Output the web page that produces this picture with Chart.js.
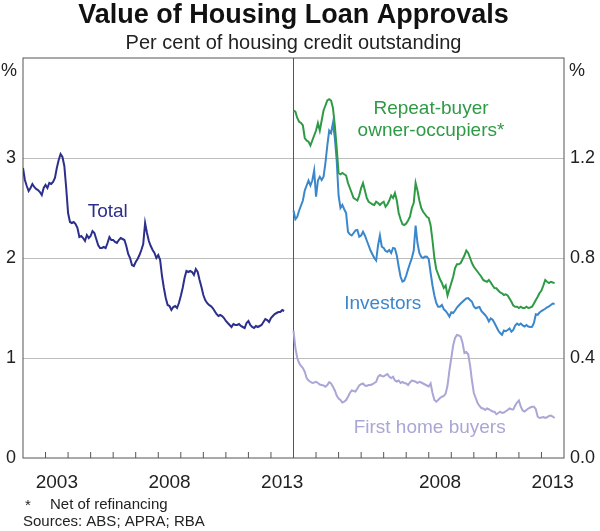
<!DOCTYPE html>
<html>
<head>
<meta charset="utf-8">
<script src="https://cdn.jsdelivr.net/npm/chart.js@4.4.0/dist/chart.umd.min.js"></script>
<style>
  body { margin: 0; background: #fff; }
  #wrap { width: 600px; height: 531px; }
</style>
</head>
<body>
<div id="wrap"><canvas id="chart" width="600" height="531"></canvas></div>
<script>
// Monthly data, Jan 2002 to Aug 2013 (per cent of housing credit outstanding)
const startYear = 2002;
const endYear = 2014;

// Left panel
const total = [
  2.90, 2.78, 2.72, 2.67, 2.70, 2.74, 2.71, 2.69, 2.68, 2.66, 2.63, 2.70,
  2.73, 2.70, 2.75, 2.74, 2.76, 2.80, 2.90, 2.98, 3.04, 3.01, 2.92, 2.70,
  2.45, 2.36, 2.35, 2.36, 2.34, 2.30, 2.21, 2.22, 2.20, 2.17, 2.23, 2.20,
  2.22, 2.27, 2.25, 2.19, 2.13, 2.10, 2.10, 2.11, 2.10, 2.15, 2.21, 2.18,
  2.18, 2.16, 2.15, 2.18, 2.20, 2.19, 2.18, 2.12, 2.04, 2.00, 1.93, 1.92,
  1.96, 1.99, 2.03, 2.08, 2.14, 2.35, 2.25, 2.17, 2.12, 2.08, 2.05, 2.00,
  2.03, 1.98, 1.82, 1.70, 1.60, 1.53, 1.52, 1.48, 1.51, 1.52, 1.50, 1.55,
  1.62, 1.70, 1.80, 1.87, 1.86, 1.87, 1.86, 1.83, 1.89, 1.86, 1.78, 1.71,
  1.63, 1.58, 1.55, 1.53, 1.52, 1.50, 1.47, 1.44, 1.42, 1.43, 1.42, 1.40,
  1.37, 1.35, 1.33, 1.31, 1.34, 1.33, 1.33, 1.34, 1.32, 1.31, 1.30, 1.35,
  1.37, 1.33, 1.31, 1.30, 1.32, 1.31, 1.32, 1.33, 1.36, 1.39, 1.38, 1.36,
  1.40, 1.42, 1.44, 1.45, 1.46, 1.46, 1.48, 1.47
];

// Right panel
const repeatBuyers = [
  1.39, 1.385, 1.36, 1.345, 1.34, 1.33, 1.28, 1.27, 1.265, 1.25, 1.27, 1.29,
  1.31, 1.34, 1.31, 1.35, 1.39, 1.41, 1.43, 1.435, 1.43, 1.40, 1.33, 1.24,
  1.14, 1.135, 1.14, 1.135, 1.13, 1.10, 1.08, 1.06, 1.04, 1.035, 1.03, 1.05,
  1.08, 1.10, 1.07, 1.04, 1.025, 1.02, 1.015, 1.012, 1.025, 1.02, 1.012, 1.02,
  1.025, 1.005, 1.015, 1.03, 1.05, 1.04, 1.06, 1.03, 0.98, 0.955, 0.935, 0.932,
  0.938, 0.95, 0.965, 1.00, 1.02, 1.10, 1.07, 1.03, 1.00, 0.985, 0.975, 0.965,
  0.96, 0.93, 0.87, 0.80, 0.755, 0.735, 0.715, 0.70, 0.68, 0.69, 0.65, 0.675,
  0.70, 0.725, 0.76, 0.775, 0.775, 0.78, 0.795, 0.81, 0.83, 0.82, 0.80, 0.78,
  0.765, 0.755, 0.745, 0.735, 0.725, 0.712, 0.708, 0.705, 0.712, 0.702, 0.69, 0.68,
  0.679, 0.67, 0.662, 0.659, 0.652, 0.655, 0.65, 0.638, 0.625, 0.61, 0.605, 0.605,
  0.60, 0.605, 0.60, 0.60, 0.605, 0.60, 0.602, 0.605, 0.618, 0.632, 0.645, 0.66,
  0.67, 0.69, 0.712, 0.705, 0.70, 0.705, 0.702, 0.70
];

const investors = [
  0.99, 0.955, 0.965, 0.99, 1.01, 1.03, 1.07, 1.09, 1.11, 1.09, 1.11, 1.15,
  1.045, 1.11, 1.125, 1.112, 1.125, 1.18, 1.25, 1.31, 1.30, 1.34, 1.28, 1.19,
  1.05, 1.00, 1.012, 0.995, 0.98, 0.905, 0.895, 0.89, 0.90, 0.91, 0.912, 0.885,
  0.89, 0.905, 0.89, 0.87, 0.85, 0.83, 0.815, 0.80, 0.79, 0.85, 0.89, 0.845,
  0.84, 0.828, 0.825, 0.832, 0.82, 0.84, 0.838, 0.81, 0.765, 0.725, 0.706, 0.71,
  0.73, 0.755, 0.778, 0.80, 0.83, 0.93, 0.86, 0.82, 0.805, 0.80, 0.806, 0.805,
  0.795, 0.74, 0.69, 0.65, 0.62, 0.605, 0.605, 0.612, 0.595, 0.588, 0.578, 0.566,
  0.583, 0.58, 0.59, 0.602, 0.61, 0.618, 0.625, 0.632, 0.638, 0.64, 0.632, 0.625,
  0.606, 0.599, 0.602, 0.604, 0.588, 0.58, 0.572, 0.562, 0.546, 0.558, 0.553, 0.54,
  0.525, 0.51, 0.50, 0.493, 0.51, 0.507, 0.512, 0.518, 0.505, 0.512, 0.53, 0.538,
  0.532, 0.538, 0.53, 0.526, 0.532, 0.526, 0.524, 0.525, 0.54, 0.575, 0.573, 0.582,
  0.588, 0.592, 0.597, 0.603, 0.606, 0.612, 0.618, 0.616
];

const firstHomeBuyers = [
  0.51, 0.44, 0.40, 0.38, 0.368, 0.36, 0.345, 0.32, 0.31, 0.305, 0.30, 0.302,
  0.305, 0.30, 0.294, 0.292, 0.29, 0.285, 0.292, 0.303, 0.298, 0.285, 0.27, 0.25,
  0.238, 0.232, 0.222, 0.225, 0.232, 0.245, 0.26, 0.27, 0.268, 0.266, 0.278, 0.29,
  0.295, 0.298, 0.29, 0.288, 0.292, 0.292, 0.295, 0.30, 0.305, 0.325, 0.332, 0.328,
  0.326, 0.332, 0.336, 0.325, 0.32, 0.325, 0.31, 0.306, 0.31, 0.30, 0.304, 0.30,
  0.298, 0.292, 0.302, 0.31, 0.308, 0.305, 0.30, 0.305, 0.302, 0.298, 0.294, 0.29,
  0.286, 0.298, 0.26, 0.232, 0.225, 0.232, 0.24, 0.245, 0.248, 0.258, 0.29, 0.35,
  0.40, 0.45, 0.48, 0.492, 0.49, 0.485, 0.46, 0.42, 0.424, 0.415, 0.37, 0.31,
  0.26, 0.24, 0.22, 0.208, 0.20, 0.198, 0.192, 0.198, 0.195, 0.19, 0.186, 0.185,
  0.175, 0.18, 0.185, 0.18, 0.182, 0.187, 0.192, 0.198, 0.195, 0.194, 0.21, 0.222,
  0.23, 0.205, 0.19, 0.186, 0.192, 0.198, 0.202, 0.205, 0.205, 0.195, 0.165, 0.16,
  0.162, 0.164, 0.16, 0.163, 0.168, 0.17, 0.166, 0.16
];

// Axis tick labels
const leftYearLabels = [2003, 2008, 2013];
const rightYearLabels = [2008, 2013];

const FONT = "'Liberation Sans', Arial, Helvetica, sans-serif";
const NAVY = '#2c2f8c';
const GREEN = '#2f9a45';
const BLUE = '#3b87cc';
const LAVENDER = '#aaa6d6';

// the two panels sit side by side on one x axis: 0-12 left, 12-24 right
const span = endYear - startYear;

function toPoints(values, offset) {
  return values.map((v, i) => ({ x: offset + i / 12, y: v }));
}

const yearTicks = leftYearLabels.map(y => y - startYear + 0.5)
  .concat(rightYearLabels.map(y => span + y - startYear + 0.5));

// Series labels (in data coords)
const seriesLabels = [
  { text: 'Total', x: 3.76, y: 2.46, axis: 'y', color: NAVY },
  { text: 'Repeat-buyer', x: 18.1, y: 1.396, axis: 'yR', color: GREEN },
  { text: 'owner-occupiers*', x: 18.1, y: 1.31, axis: 'yR', color: GREEN },
  { text: 'Investors', x: 15.96, y: 0.616, axis: 'yR', color: BLUE },
  { text: 'First home buyers', x: 18.04, y: 0.12, axis: 'yR', color: LAVENDER }
];

const panelDecor = {
  id: 'panelDecor',
  beforeDatasetsDraw(chart) {
    const { ctx, chartArea: a, scales: { x } } = chart;
    ctx.save();
    ctx.strokeStyle = '#555';
    ctx.lineWidth = 1;
    ctx.strokeRect(a.left, a.top, a.right - a.left, a.bottom - a.top);
    ctx.beginPath();
    const mid = x.getPixelForValue(span);
    ctx.moveTo(mid, a.top);
    ctx.lineTo(mid, a.bottom);
    // small inward year ticks
    for (let k = 1; k < span * 2; k++) {
      if (k === span) continue;
      const px = x.getPixelForValue(k);
      ctx.moveTo(px, a.bottom);
      ctx.lineTo(px, a.bottom - 6);
    }
    ctx.stroke();
    ctx.restore();
  },
  afterDatasetsDraw(chart) {
    const { ctx, scales } = chart;
    ctx.save();
    ctx.font = '19px ' + FONT;
    ctx.textAlign = 'center';
    ctx.textBaseline = 'middle';
    seriesLabels.forEach(l => {
      ctx.fillStyle = l.color;
      ctx.fillText(l.text, scales.x.getPixelForValue(l.x), scales[l.axis].getPixelForValue(l.y));
    });
    ctx.restore();
  },
  afterDraw(chart) {
    const { ctx, chartArea: a } = chart;
    ctx.save();
    ctx.fillStyle = '#222';
    ctx.textBaseline = 'middle';
    ctx.textAlign = 'center';
    ctx.font = '18px ' + FONT;
    ctx.fillText('%', a.left - 14, a.top + 13);
    ctx.fillText('%', a.right + 13, a.top + 13);
    // footnotes
    ctx.textAlign = 'left';
    ctx.font = '15px ' + FONT;
    ctx.fillText('*', 25, 506);
    ctx.fillText('Net of refinancing', 50, 505);
    ctx.fillText('Sources: ABS; APRA; RBA', 23, 522);
    ctx.restore();
  }
};

const lineStyle = { borderWidth: 2, pointRadius: 0, fill: false, tension: 0 };

new Chart(document.getElementById('chart'), {
  type: 'line',
  data: {
    datasets: [
      { label: 'Total', data: toPoints(total, 0), borderColor: NAVY, yAxisID: 'y', ...lineStyle },
      { label: 'Repeat-buyer owner-occupiers', data: toPoints(repeatBuyers, span), borderColor: GREEN, yAxisID: 'yR', ...lineStyle },
      { label: 'Investors', data: toPoints(investors, span), borderColor: BLUE, yAxisID: 'yR', ...lineStyle },
      { label: 'First home buyers', data: toPoints(firstHomeBuyers, span), borderColor: LAVENDER, yAxisID: 'yR', ...lineStyle }
    ]
  },
  options: {
    responsive: false,
    animation: false,
    layout: { padding: 0 },
    plugins: {
      legend: { display: false },
      tooltip: { enabled: false },
      title: {
        display: true,
        fullSize: false,
        text: 'Value of Housing Loan Approvals',
        color: '#111',
        font: { family: FONT, size: 27, weight: 'bold', lineHeight: 1 },
        padding: { top: 2, bottom: 0 }
      },
      subtitle: {
        display: true,
        fullSize: false,
        text: 'Per cent of housing credit outstanding',
        color: '#222',
        font: { family: FONT, size: 20, lineHeight: 1 },
        padding: { top: 4, bottom: 5 }
      }
    },
    scales: {
      x: {
        type: 'linear',
        min: 0,
        max: span * 2,
        grid: { display: false, drawTicks: false },
        border: { display: false },
        afterBuildTicks: s => { s.ticks = yearTicks.map(v => ({ value: v })); },
        afterFit: s => { s.height = 73; },
        ticks: {
          autoSkip: false,
          maxRotation: 0,
          padding: 13,
          color: '#222',
          font: { family: FONT, size: 19 },
          callback: v => String(startYear + Math.floor(v % span))
        }
      },
      y: {
        position: 'left',
        min: 0,
        max: 4,
        grid: {
          drawTicks: false,
          color: c => (c.tick.value > 0 && c.tick.value < 4) ? '#bdbdbd' : 'rgba(0,0,0,0)'
        },
        border: { display: false },
        afterFit: s => { s.width = 23; },
        ticks: {
          stepSize: 1,
          padding: 7,
          color: '#222',
          font: { family: FONT, size: 18 },
          callback: v => v === 4 ? '' : v
        }
      },
      yR: {
        position: 'right',
        min: 0,
        max: 1.6,
        grid: { display: false, drawTicks: false },
        border: { display: false },
        afterFit: s => { s.width = 36; },
        ticks: {
          stepSize: 0.4,
          padding: 6,
          color: '#222',
          font: { family: FONT, size: 18 },
          callback: v => v > 1.5 ? '' : v.toFixed(1)
        }
      }
    }
  },
  plugins: [panelDecor]
});
</script>
</body>
</html>
